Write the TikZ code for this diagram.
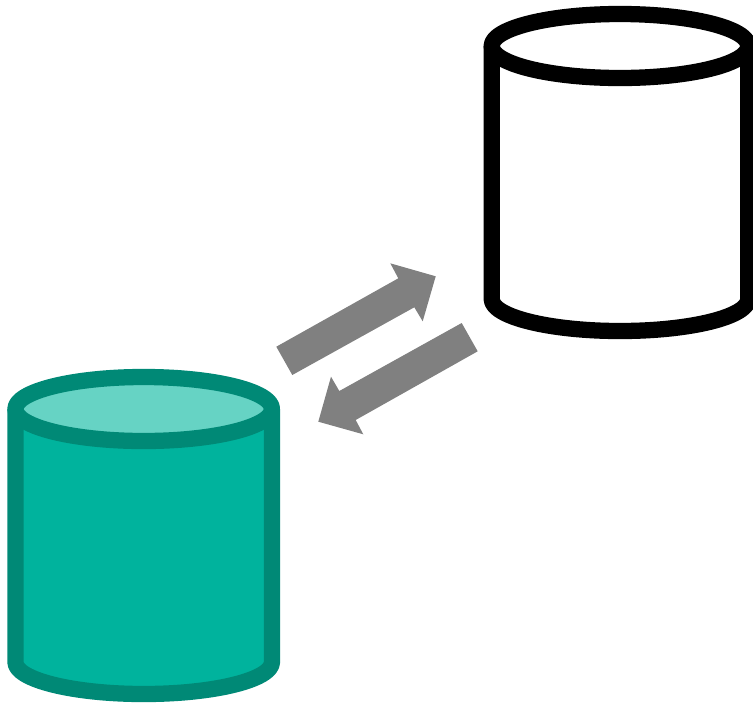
\documentclass[tikz,border=0pt]{standalone}
\definecolor{tealbody}{HTML}{00B39D}
\definecolor{tealtop}{HTML}{66D3C4}
\definecolor{tealline}{HTML}{008976}
\definecolor{arrowgrey}{HTML}{808080}
\tikzset{
  cyl/.style={line width=12.2pt,line join=round},
  blockarrow/.style={fill=arrowgrey,draw=none},
}
% #1 cx, #2 top-ellipse cy, #3 bottom cy, #4 line, #5 body, #6 top
\newcommand{\mycyl}[6]{%
  \fill[#5] (#1-128.3,#2) -- (#1-128.3,#3) arc[start angle=180,end angle=360,x radius=128.3,y radius=-32] -- (#1+128.3,#2) -- cycle;
  \draw[cyl,draw=#4,fill=#6] (#1,#2) ellipse[x radius=128.3,y radius=32];
  \draw[cyl,draw=#4] (#1-128.3,#2) -- (#1-128.3,#3) arc[start angle=180,end angle=360,x radius=128.3,y radius=-32] -- (#1+128.3,#2);
}
\begin{document}
\begin{tikzpicture}[x=0.75pt,y=-0.75pt]
\useasboundingbox (0,0) rectangle (753,704);
\clip (0,0) rectangle (753,704);
\mycyl{143.7}{409}{662}{tealline}{tealbody}{tealtop}
\mycyl{620}{46}{299}{black}{white}{white}
\fill[blockarrow] (276.3,346.7) -- (292.3,375) -- (414.3,307.3) -- (422.7,321.3) -- (435.7,276.3) -- (390.3,263.3) -- (398.3,278.3) -- cycle;
\fill[blockarrow] (461.7,323) -- (477.7,351.3) -- (355.7,420) -- (363.3,434.3) -- (318.3,421.7) -- (331,376.7) -- (339.3,391) -- cycle;
\end{tikzpicture}
\end{document}
